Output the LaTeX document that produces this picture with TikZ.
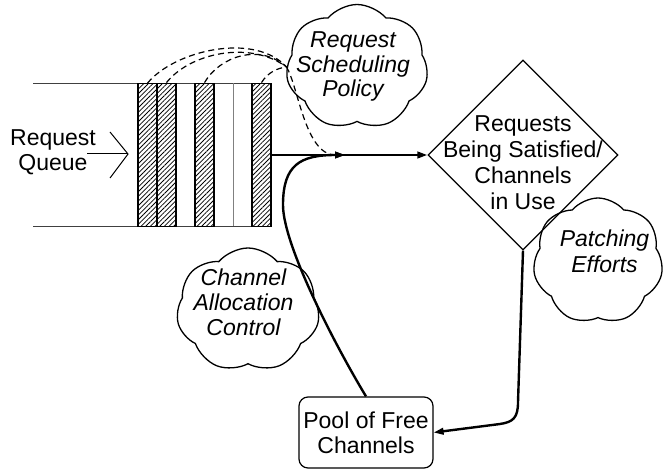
\documentclass[tikz,border=0pt]{standalone}
\usepackage{fontspec}
\setmainfont{Liberation Sans}
\usetikzlibrary{shapes.geometric,shapes.symbols,patterns.meta,arrows.meta}
\begin{document}
\begin{tikzpicture}[x=1pt,y=-1pt,
  lbl/.style={font=\fontsize{23}{25}\selectfont, align=center, inner sep=0pt},
  ilbl/.style={lbl, font=\fontsize{23}{25}\selectfont\itshape},
  qline/.style={draw=black!75, line width=0.9pt},
  bar/.style={draw, line width=1.8pt, pattern={Lines[angle=45,distance=3.3pt,line width=0.75pt]}, minimum width=19pt, minimum height=143pt, inner sep=0pt},
  tip/.style={-{Triangle[length=10pt,width=6.5pt]}},
  conn/.style={line width=2.4pt, tip},
  dconn/.style={line width=1.2pt, dash pattern=on 6pt off 4pt},
  puff/.style={cloud, draw, line width=1.3pt, cloud puffs=7, cloud puff arc=100, cloud ignores aspect, inner sep=0pt},
]
\useasboundingbox (0,0) rectangle (666,470);

% queue outline
\coordinate (qtl) at (33,83.5);
\coordinate (qbl) at (33,226.5);
\coordinate (qtr) at (271,83.5);
\coordinate (qbr) at (271,226.5);
\coordinate (s1) at (233,83.5);
\coordinate (s2) at (233,226.5);
\draw[qline] (qtl) -- (qtr);
\draw[qline] (qbl) -- (qbr);
\draw[qline, draw=black!50] (s1) -- (s2);

% queue slots
\node[bar] (b1) at (147.5,155) {};
\node[bar] (b2) at (166.5,155) {};
\node[bar] (b3) at (204.5,155) {};
\node[bar] (b4) at (261.5,155) {};

% request queue input
\coordinate (ch1) at (110,132);
\coordinate (ch2) at (128,154);
\coordinate (ch3) at (110,178);
\coordinate (ha) at (87,154);
\draw[line width=1pt] (ch1) -- (ch2) -- (ch3);
\draw[line width=1pt] (ha) -- (ch2);
\node[lbl] (rq) at (53,152.5) {Request\\Queue};

% diamond
\node[diamond, draw, line width=1.2pt, minimum width=190pt, minimum height=190pt, inner sep=0pt] (d) at (523,155) {};
\node[lbl, font=\fontsize{23}{26}\selectfont] (dt) at (523,163) {Requests\\Being Satisfied/\\Channels\\in Use};

% clouds
\node[puff, minimum width=142pt, minimum height=125pt] (rs) at (357,67) {};
\node[ilbl, font=\fontsize{23}{24.5}\selectfont\itshape] (rst) at (353,66.5) {Request\\Scheduling\\Policy};

\node[puff, minimum width=143pt, minimum height=124pt, shape border rotate=20] (ca) at (248,310) {};
\node[ilbl] (cat) at (243.5,302.5) {Channel\\Allocation\\Control};

\node[puff, minimum width=130pt, minimum height=126pt, shape border rotate=40] (pe) at (598,261) {};
\node[ilbl, font=\fontsize{23}{26}\selectfont\itshape] (pet) at (604.5,251) {Patching\\Efforts};

% pool
\node[lbl, draw, rounded corners=9pt, line width=1.2pt, minimum width=134pt, minimum height=71pt] (pool) at (366,432.5) {Pool of Free\\Channels};

% merge point
\coordinate (m) at (345,155);

% connectors
\draw[conn] (b4.east) -- (d.west);
\draw[conn] (pool.north) .. controls (335,345) and (283,245) .. (283,205) .. controls (283,165) and (300,155) .. (m);
\draw[conn] (d.south) -- (518,402) .. controls (518,418) and (513,422) .. (500,424) -- (pool.east);

\draw[dconn] (b1.north) .. controls (175,50) and (255,32) .. (rs.west);
\draw[dconn] (b2.north) .. controls (190,53) and (250,40) .. (rs.west);
\draw[dconn] (b3.north) .. controls (220,56) and (260,43) .. (rs.west);
\draw[dconn] (b4.north) .. controls (268,72) and (278,68) .. (rs.west);
\draw[dconn, tip] (rs.west) .. controls (298,85) and (305,155) .. (m);
\end{tikzpicture}
\end{document}
